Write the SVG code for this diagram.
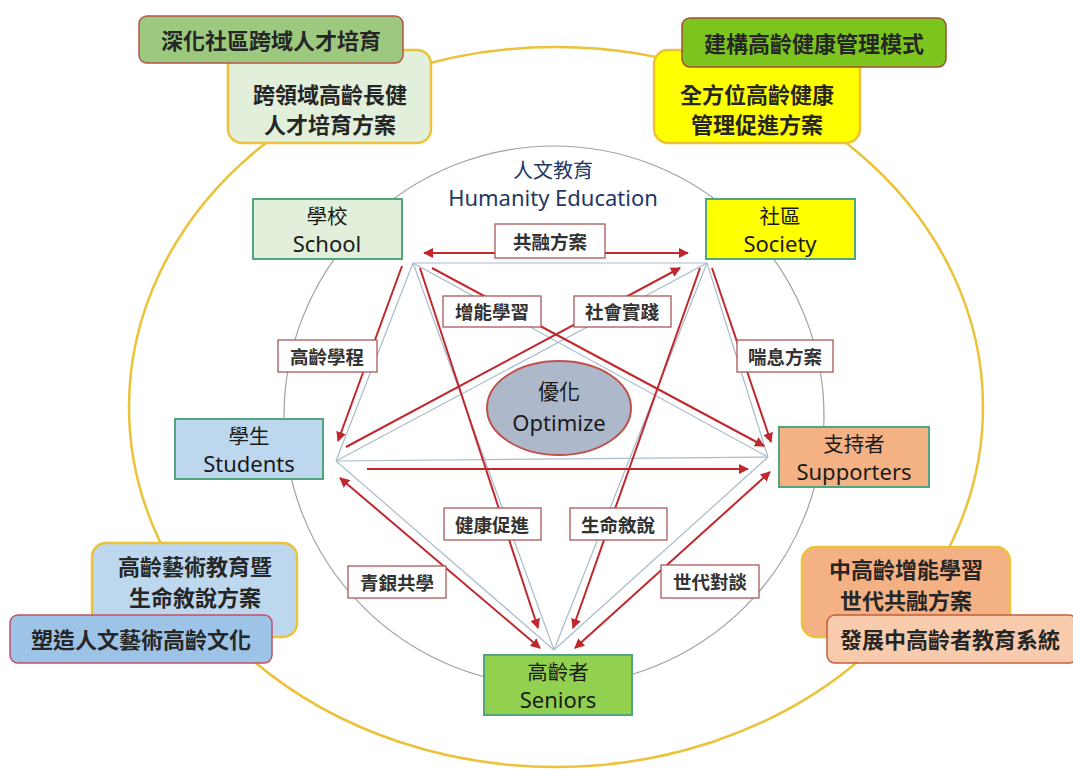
<svg xmlns="http://www.w3.org/2000/svg" width="1073" height="770" viewBox="0 0 1073 770">
<defs>
<marker id="ah" viewBox="0 0 10 10" refX="9" refY="5" markerWidth="5" markerHeight="5" orient="auto-start-reverse" markerUnits="strokeWidth">
<path d="M0,0 L10,5 L0,10 z" fill="#C0282D"/>
</marker>
<style>
text{font-family:"Noto Sans","Noto Sans CJK TC",sans-serif;fill:#1a1a1a;text-anchor:middle;dominant-baseline:central}
.big{font-size:22px;font-weight:bold;fill:#262626}
.nz{font-size:20.5px}
.ne{font-size:22px}
.lb{font-size:18.5px;font-weight:bold;fill:#333333}
.lbox{fill:#ffffff;stroke:#A85858;stroke-width:1.3}
.node{stroke:#52A67E;stroke-width:2}
.gl{stroke:#A9BCCB;stroke-width:1.2;fill:none}
.ra{stroke:#C0282D;stroke-width:2;fill:none}
.plan{stroke:#EBC23A;stroke-width:2.5}
</style>
</defs>
<rect width="1073" height="770" fill="#ffffff"/>
<ellipse cx="556" cy="407" rx="427" ry="360" fill="none" stroke="#EBC23A" stroke-width="2.5"/>
<circle cx="554" cy="416" r="270" fill="none" stroke="#A0A0A0" stroke-width="1.2"/>
<g id="title">
<text x="553" y="170" style="fill:#1F3864;font-size:20px">人文教育</text>
<text x="553" y="197" style="fill:#1F3864;font-size:22px">Humanity Education</text>
</g>
<g id="connectors">
<g id="pentagram">
<line class="gl" x1="413" y1="263" x2="707" y2="263"/>
<line class="gl" x1="413" y1="263" x2="336" y2="461"/>
<line class="gl" x1="413" y1="263" x2="768" y2="457"/>
<line class="gl" x1="413" y1="263" x2="554" y2="650"/>
<line class="gl" x1="707" y1="263" x2="336" y2="461"/>
<line class="gl" x1="707" y1="263" x2="768" y2="457"/>
<line class="gl" x1="707" y1="263" x2="554" y2="650"/>
<line class="gl" x1="336" y1="461" x2="768" y2="457"/>
<line class="gl" x1="336" y1="461" x2="554" y2="650"/>
<line class="gl" x1="768" y1="457" x2="554" y2="650"/>
</g>
<line class="ra" x1="424" y1="253" x2="688" y2="253" marker-start="url(#ah)" marker-end="url(#ah)"/>
<line class="ra" x1="402" y1="266" x2="338" y2="441" marker-end="url(#ah)"/>
<line class="ra" x1="432" y1="268" x2="764" y2="446" marker-end="url(#ah)"/>
<line class="ra" x1="346" y1="447" x2="680" y2="268" marker-end="url(#ah)"/>
<line class="ra" x1="712" y1="268" x2="771" y2="442" marker-end="url(#ah)"/>
<line class="ra" x1="420" y1="268" x2="538" y2="628" marker-end="url(#ah)"/>
<line class="ra" x1="700" y1="268" x2="573" y2="628" marker-end="url(#ah)"/>
<line class="ra" x1="367" y1="469" x2="748" y2="469" marker-end="url(#ah)"/>
<line class="ra" x1="340" y1="478" x2="540" y2="648" marker-start="url(#ah)" marker-end="url(#ah)"/>
<line class="ra" x1="770" y1="472" x2="575" y2="648" marker-start="url(#ah)" marker-end="url(#ah)"/>
</g>
<g id="labels">
<g id="l1"><rect class="lbox" x="495" y="224" width="110" height="34"/><text x="550" y="241" class="lb">共融方案</text></g>
<g id="l2"><rect class="lbox" x="443" y="296" width="98" height="31"/><text x="492" y="311" class="lb">增能學習</text></g>
<g id="l3"><rect class="lbox" x="574" y="296" width="97" height="31"/><text x="622" y="311" class="lb">社會實踐</text></g>
<g id="l4"><rect class="lbox" x="278" y="340" width="99" height="32"/><text x="327" y="356" class="lb">高齡學程</text></g>
<g id="l5"><rect class="lbox" x="737" y="340" width="96" height="32"/><text x="785" y="356" class="lb">喘息方案</text></g>
<g id="l6"><rect class="lbox" x="444" y="508" width="97" height="32"/><text x="492" y="524" class="lb">健康促進</text></g>
<g id="l7"><rect class="lbox" x="570" y="508" width="97" height="32"/><text x="618" y="524" class="lb">生命敘說</text></g>
<g id="l8"><rect class="lbox" x="348" y="566" width="98" height="32"/><text x="397" y="582" class="lb">青銀共學</text></g>
<g id="l9"><rect class="lbox" x="661" y="565" width="98" height="33"/><text x="710" y="581" class="lb">世代對談</text></g>
</g>
<g id="optimize">
<ellipse cx="559" cy="408" rx="72" ry="47" fill="#ADB9CA" stroke="#C0504D" stroke-width="2"/>
<text x="559" y="391" style="font-size:21px">優化</text>
<text x="559" y="422" style="font-size:22px">Optimize</text>
</g>
<g id="school">
<rect class="node" x="253" y="199" width="149" height="60" fill="#E2EFDA"/>
<text x="327" y="216" class="nz">學校</text>
<text x="327" y="243" class="ne">School</text>
</g>
<g id="society">
<rect class="node" x="706" y="199" width="149" height="60" fill="#FFFF00"/>
<text x="780" y="216" class="nz">社區</text>
<text x="780" y="243" class="ne">Society</text>
</g>
<g id="students">
<rect class="node" x="175" y="419" width="148" height="60" fill="#BDD7EE"/>
<text x="249" y="436" class="nz">學生</text>
<text x="249" y="463" class="ne">Students</text>
</g>
<g id="supporters">
<rect class="node" x="779" y="427" width="150" height="60" fill="#F4B183"/>
<text x="854" y="444" class="nz">支持者</text>
<text x="854" y="471" class="ne">Supporters</text>
</g>
<g id="seniors">
<rect class="node" x="484" y="655" width="148" height="60" fill="#92D050"/>
<text x="558" y="672" class="nz">高齡者</text>
<text x="558" y="699" class="ne">Seniors</text>
</g>
<g id="plan-tl">
<rect class="plan" x="228" y="50" width="203" height="93" rx="14" fill="#E2EFDA"/>
<text x="330" y="94" class="big">跨領域高齡長健</text>
<text x="330" y="124" class="big">人才培育方案</text>
</g>
<g id="goal-tl">
<rect x="139" y="16" width="264" height="47" rx="8" fill="#9DC97F" stroke="#B5524A" stroke-width="1.5"/>
<text x="271" y="40" class="big">深化社區跨域人才培育</text>
</g>
<g id="plan-tr">
<rect class="plan" x="654" y="50" width="206" height="93" rx="14" fill="#FFFF00"/>
<text x="757" y="94" class="big">全方位高齡健康</text>
<text x="757" y="124" class="big">管理促進方案</text>
</g>
<g id="goal-tr">
<rect x="682" y="18" width="264" height="49" rx="8" fill="#7CC41E" stroke="#A0522D" stroke-width="1.5"/>
<text x="814" y="43" class="big">建構高齡健康管理模式</text>
</g>
<g id="plan-bl">
<rect class="plan" x="92" y="543" width="205" height="94" rx="14" fill="#BDD7EE"/>
<text x="195" y="566" class="big">高齡藝術教育暨</text>
<text x="195" y="597" class="big">生命敘說方案</text>
</g>
<g id="goal-bl">
<rect x="10" y="615" width="262" height="48" rx="8" fill="#9DC3E6" stroke="#C0506A" stroke-width="1.5"/>
<text x="141" y="639" class="big">塑造人文藝術高齡文化</text>
</g>
<g id="plan-br">
<rect class="plan" x="802" y="547" width="208" height="90" rx="14" fill="#F4B183"/>
<text x="906" y="569" class="big">中高齡增能學習</text>
<text x="906" y="600" class="big">世代共融方案</text>
</g>
<g id="goal-br">
<rect x="827" y="615" width="250" height="48" rx="8" fill="#F8CBAD" stroke="#C0603F" stroke-width="1.5"/>
<text x="950" y="639" class="big">發展中高齡者教育系統</text>
</g>
</svg>
